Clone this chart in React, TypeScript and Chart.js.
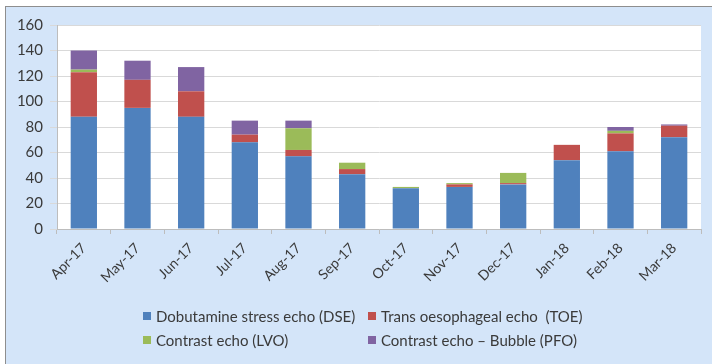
import React, { useEffect, useRef } from "react";
import { Chart, registerables } from "chart.js";

Chart.register(...registerables);

const months = ["Apr-17", "May-17", "Jun-17", "Jul-17", "Aug-17", "Sep-17", "Oct-17", "Nov-17", "Dec-17", "Jan-18", "Feb-18", "Mar-18"];
const dse = [88, 95, 88, 68, 57, 43, 32, 33, 35, 54, 61, 72];
const toe = [35, 22, 20, 6, 5, 4, 0, 2, 1, 12, 14, 9];
const lvo = [2, 0, 0, 0, 17, 5, 1, 1, 8, 0, 2, 0];
const pfo = [15, 15, 19, 11, 6, 0, 0, 0, 0, 0, 3, 1];

const seriesNames = [
  "Dobutamine stress echo (DSE)",
  "Trans oesophageal echo  (TOE)",
  "Contrast echo (LVO)",
  "Contrast echo \u2013 Bubble (PFO)",
];
const seriesColors = ["#4f81bd", "#c0504d", "#9bbb59", "#8064a2"];

const FONT = "Lato, 'Liberation Sans', sans-serif";
const TEXT = "#3a3a3a";

// fills the plot area white on top of the blue panel
const plotBackground = {
  id: "plotBackground",
  beforeDraw(chart: any) {
    const { ctx, chartArea } = chart;
    ctx.save();
    ctx.fillStyle = "#ffffff";
    ctx.fillRect(chartArea.left, chartArea.top, chartArea.right - chartArea.left, chartArea.bottom - chartArea.top);
    ctx.restore();
  },
};

export default function App() {
  const canvasRef = useRef<HTMLCanvasElement>(null);

  useEffect(() => {
    if (!canvasRef.current) return;
    const values = [dse, toe, lvo, pfo];
    const chart = new Chart(canvasRef.current, {
      type: "bar",
      data: {
        labels: months,
        datasets: values.map((data, i) => ({
          label: seriesNames[i],
          data,
          backgroundColor: seriesColors[i],
          borderWidth: 0,
          categoryPercentage: 1,
          barPercentage: 0.49,
        })),
      },
      options: {
        animation: false,
        responsive: false,
        maintainAspectRatio: false,
        layout: { padding: { top: 25, right: 11, left: 0, bottom: 0 } },
        plugins: { legend: { display: false }, tooltip: { enabled: false } },
        scales: {
          x: {
            stacked: true,
            afterFit: (s: any) => { s.height = 135; },
            grid: { drawOnChartArea: false, drawTicks: true, tickLength: 5, color: "#bdbdbd", offset: true },
            border: { color: "#bdbdbd" },
            ticks: {
              minRotation: 45,
              maxRotation: 45,
              padding: 6,
              color: TEXT,
              font: { family: FONT, size: 14 },
            },
          },
          y: {
            stacked: true,
            min: 0,
            max: 160,
            afterFit: (s: any) => { s.width = 57; },
            grid: { color: "#d9d9d9", tickLength: 7, drawTicks: true },
            border: { color: "#bdbdbd" },
            ticks: {
              stepSize: 20,
              padding: 7,
              color: TEXT,
              font: { family: FONT, size: 15 },
            },
          },
        },
      },
      plugins: [plotBackground],
    });
    return () => chart.destroy();
  }, []);

  const legendItem = (i: number, left: number, top: number) => (
    <div
      key={i}
      style={{
        position: "absolute",
        left,
        top,
        display: "flex",
        alignItems: "center",
        whiteSpace: "pre",
        fontFamily: FONT,
        fontSize: 15,
        color: TEXT,
        lineHeight: "18px",
      }}
    >
      <span style={{ display: "inline-block", width: 8, height: 8, background: seriesColors[i], marginRight: 5 }} />
      {seriesNames[i]}
    </div>
  );

  return (
    <div style={{ position: "fixed", left: 0, top: 0, width: 712, height: 364, background: "#ffffff", overflow: "hidden" }}>
      <div
        style={{
          position: "absolute",
          left: 5,
          top: 6,
          right: 0,
          bottom: 0,
          background: "#d4e5f9",
          borderTop: "1px solid #8e8e8e",
          borderLeft: "1px solid #8e8e8e",
        }}
      />
      <canvas ref={canvasRef} width={712} height={364} style={{ position: "absolute", left: 0, top: 0 }} />
      {legendItem(0, 143, 307)}
      {legendItem(1, 368, 307)}
      {legendItem(2, 143, 331)}
      {legendItem(3, 368, 331)}
    </div>
  );
}
